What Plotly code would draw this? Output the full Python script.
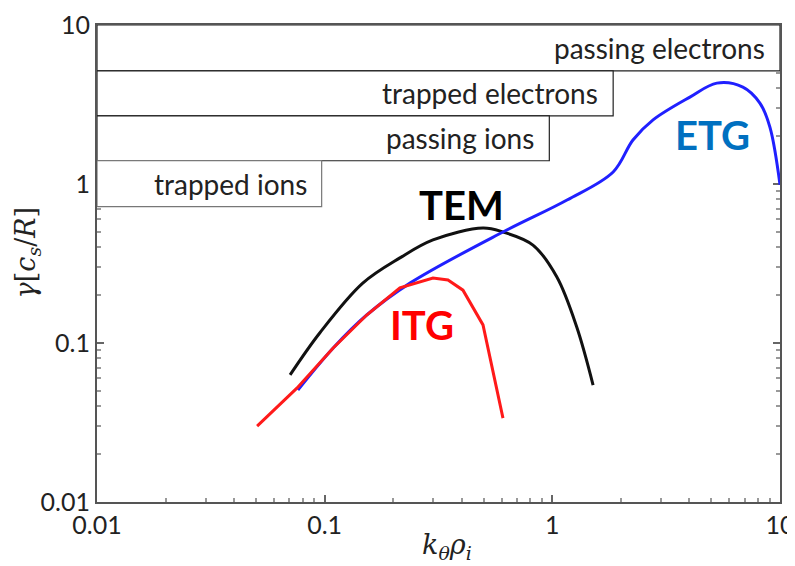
import numpy as np
import plotly.graph_objects as go

# curvas de crecimiento (k_theta rho_i, gamma)
itg_k = [0.0505, 0.0755, 0.109, 0.153, 0.214, 0.299, 0.348, 0.405, 0.496, 0.607]
itg_g = [0.030, 0.052, 0.093, 0.150, 0.222, 0.256, 0.249, 0.215, 0.130, 0.0337]

tem_k = [0.0705, 0.0953, 0.147, 0.214, 0.299, 0.496, 0.607, 0.822, 1.047, 1.28, 1.51]
tem_g = [0.063, 0.116, 0.238, 0.343, 0.445, 0.529, 0.499, 0.413, 0.260, 0.126, 0.0544]

etg_k = [0.0763, 0.109, 0.153, 0.237, 0.607, 1.16, 1.85, 2.26, 2.77, 4.02, 5.28, 6.87, 8.16, 9.03, 10.0]
etg_g = [0.0506, 0.093, 0.150, 0.238, 0.499, 0.793, 1.19, 1.89, 2.53, 3.52, 4.31, 4.07, 3.23, 2.28, 0.99]

# cajas de especies: etiqueta, k maximo, gamma abajo, gamma arriba
cajas = ["passing electrons", "trapped electrons", "passing ions", "trapped ions"]
caja_kmax = [10.0, 1.85, 0.97, 0.097]
caja_gmin = [5.14, 2.68, 1.40, 0.72]
caja_gmax = [10.0, 5.14, 2.68, 1.40]
k_min = 0.01

# etiquetas de modos
modos = ["ITG", "TEM", "ETG"]
modos_k = [0.267, 0.40, 5.07]
modos_g = [0.130, 0.74, 2.03]
modos_col = ["#ff0000", "#000000", "#0070c0"]

fig = go.Figure()

#lineas
fig.add_trace(go.Scatter(x=tem_k, y=tem_g, mode="lines", line=dict(color="#111111", width=3, shape="spline")))
fig.add_trace(go.Scatter(x=etg_k, y=etg_g, mode="lines", line=dict(color="#2020ff", width=3, shape="spline")))
fig.add_trace(go.Scatter(x=itg_k, y=itg_g, mode="lines", line=dict(color="#ff1a1a", width=3)))

#cajas
for i in range(len(cajas)):
    borde = "#777777" if cajas[i] == "trapped ions" else "#222222"
    fig.add_trace(go.Scatter(
        x=[k_min, caja_kmax[i], caja_kmax[i], k_min, k_min],
        y=[caja_gmin[i], caja_gmin[i], caja_gmax[i], caja_gmax[i], caja_gmin[i]],
        mode="lines", fill="toself", fillcolor="white",
        line=dict(color=borde, width=1.2)))
    fig.add_annotation(x=np.log10(caja_kmax[i]), y=np.log10(np.sqrt(caja_gmin[i] * caja_gmax[i])),
                       text=cajas[i], showarrow=False, xanchor="right", xshift=-13,
                       font=dict(family="Lato", size=28, color="#222222"))

for i in range(len(modos)):
    fig.add_annotation(x=np.log10(modos_k[i]), y=np.log10(modos_g[i]), text="<b>" + modos[i] + "</b>",
                       showarrow=False, font=dict(family="Lato", size=40, color=modos_col[i]))

#titulos de ejes
fig.add_annotation(xref="paper", yref="paper", x=-0.102, y=0.524, textangle=-90, showarrow=False,
                   xanchor="center", yanchor="middle",
                   text="<i>γ</i>[<i>c</i><sub><i>s</i></sub>/<i>R</i>]",
                   font=dict(family="DejaVu Serif", size=27, color="#222222"))
fig.add_annotation(xref="paper", yref="paper", x=0.512, y=-0.094, showarrow=False,
                   xanchor="center", yanchor="middle",
                   text="<i>k</i><sub><i>θ</i></sub><i>ρ</i><sub><i>i</i></sub>",
                   font=dict(family="DejaVu Serif", size=27, color="#222222"))

#ejes
for upd in (fig.update_xaxes, fig.update_yaxes):
    upd(type="log", range=[-2, 1], tickvals=[0.01, 0.1, 1, 10], ticktext=["0.01", "0.1", "1", "10"],
        ticks="inside", ticklen=7, tickwidth=1.5, tickcolor="#666666",
        minor=dict(ticks="inside", ticklen=4, tickcolor="#999999", dtick="D1"),
        showline=True, linecolor="#555555", linewidth=2, mirror="ticks", showgrid=False,
        zeroline=False, layer="below traces", automargin=False,
        tickfont=dict(family="Lato", size=25, color="#222222"))

# la pagina tiene 8px de margen en el body
fig.update_layout(width=795, height=558, margin=dict(l=89, r=23, t=17, b=64),
                  plot_bgcolor="white", paper_bgcolor="white", showlegend=False)

fig.write_html("out.html")
